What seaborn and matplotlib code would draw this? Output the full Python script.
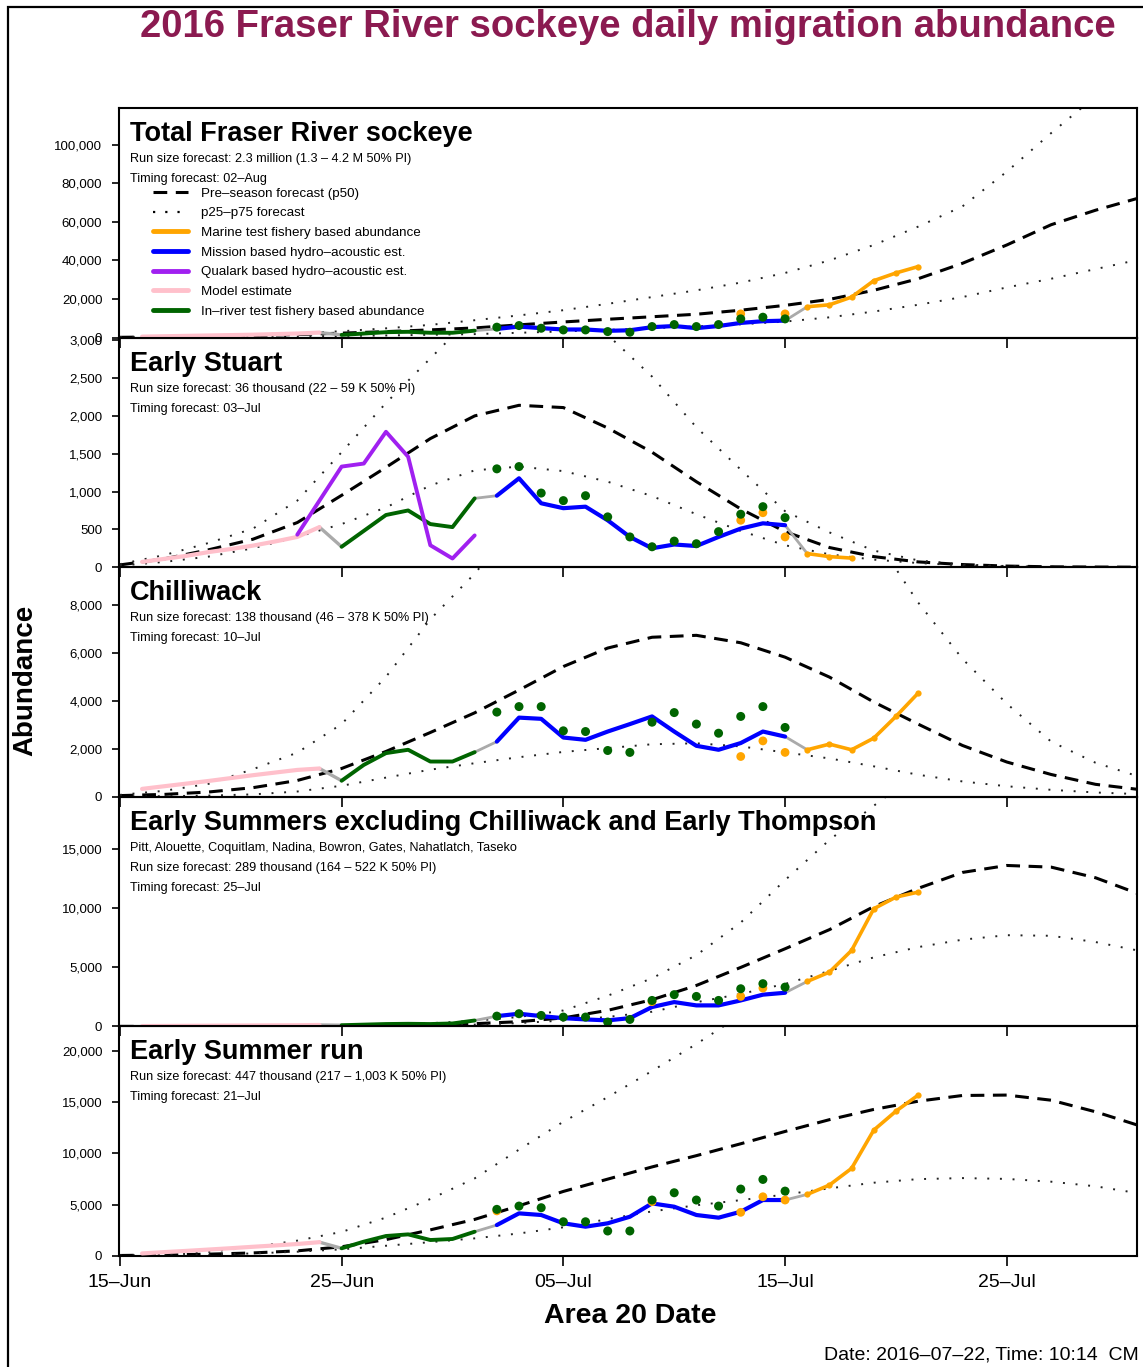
import numpy as np
import pandas as pd
import matplotlib
matplotlib.use('Agg')
import matplotlib.pyplot as plt
from matplotlib.lines import Line2D
from matplotlib.patches import Rectangle
import seaborn as sns

# Estilo
sns.set_style('white')
plt.rcParams['font.family'] = ['Liberation Sans', 'DejaVu Sans']
plt.rcParams['text.color'] = 'black'
plt.rcParams['axes.labelcolor'] = 'black'
plt.rcParams['xtick.color'] = 'black'
plt.rcParams['ytick.color'] = 'black'

START = pd.Timestamp('2016-06-15')

# dias desde 15-Jun
FC_DAYS = list(range(0, 47, 2))
MODEL_DAYS = list(range(1, 10))
INRIVER_DAYS = list(range(10, 17))
MISSION_DAYS = list(range(17, 31))
MARINE_DAYS = list(range(31, 37))
QUALARK_DAYS = list(range(8, 17))

XTICK_DAYS = [0, 10, 20, 30, 40]
XTICK_LABELS = ['15\u2013Jun', '25\u2013Jun', '05\u2013Jul', '15\u2013Jul', '25\u2013Jul']

# ---- Total Fraser River sockeye ----
TOT_P50 = [150, 350, 650, 1050, 1600, 2300, 3100, 4000, 5000, 6600, 8100, 9500,
           10800, 12100, 14200, 16700, 19800, 24500, 30500, 38500, 48000, 58500, 66000, 72500]
TOT_P75 = [300, 600, 1000, 1600, 2300, 3300, 4800, 6600, 9000, 11500, 14200, 17500,
           21000, 24500, 28500, 33500, 40000, 48000, 57500, 68000, 86000, 106000, 125000, 145000]
TOT_P25 = [100, 200, 300, 450, 600, 850, 1100, 1450, 1800, 2500, 3200, 4000,
           4900, 5800, 6900, 8300, 10500, 13500, 17000, 21000, 26000, 30500, 35500, 40500]
TOT_MODEL = [500, 700, 900, 1100, 1300, 1500, 1800, 2100, 2600]
TOT_INRIVER = [1400, 2100, 2800, 3000, 2500, 2500, 3600]
TOT_MISSION = [4500, 5700, 4900, 4200, 4200, 3500, 3800, 5400, 6000, 4900, 6000, 7600, 8500, 8800]
TOT_MARINE = [16000, 17000, 21000, 29500, 33500, 36800]
TOT_INRIVER_PTS = [5400, 6230, 4850, 3980, 3980, 3120, 2770, 5710, 6750, 5710, 6750, 9700, 10560, 9700]
TOT_MARINE_PT_DAYS = [28, 30]
TOT_MARINE_PTS = [12300, 12300]

# ---- Early Stuart ----
ES_P50 = [30, 110, 230, 370, 590, 950, 1320, 1700, 2000, 2140, 2110, 1840,
          1520, 1130, 770, 470, 260, 140, 70, 35, 15, 5, 2, 0]
ES_P75 = [40, 160, 320, 510, 880, 1520, 2170, 2760, 3350, 3800, 3600, 3070,
          2520, 1850, 1290, 740, 460, 220, 90, 35, 15, 5, 2, 0]
ES_P25 = [20, 70, 140, 250, 400, 570, 790, 1080, 1280, 1330, 1270, 1130,
          940, 700, 480, 290, 170, 100, 55, 25, 10, 5, 2, 0]
ES_MODEL = [70, 110, 150, 200, 240, 285, 340, 400, 530]
ES_INRIVER = [270, 480, 690, 750, 570, 530, 910]
ES_MISSION = [945, 1175, 845, 780, 800, 620, 400, 250, 300, 280, 400, 510, 580, 555]
ES_MARINE = [180, 140, 120]
ES_QUALARK = [430, 880, 1330, 1370, 1790, 1460, 290, 115, 420]
ES_INRIVER_PTS = [1300, 1330, 980, 880, 945, 665, 400, 270, 345, 310, 470, 700, 800, 655]
ES_MARINE_PT_DAYS = [28, 29, 30]
ES_MARINE_PTS = [620, 720, 400]

# ---- Chilliwack ----
CH_P50 = [50, 100, 200, 380, 680, 1180, 1890, 2680, 3500, 4450, 5430, 6200,
          6650, 6730, 6420, 5820, 4990, 3950, 3030, 2140, 1450, 930, 520, 300]
CH_P75 = [80, 250, 540, 1150, 1840, 3030, 5000, 7400, 9300, 11500, 13500, 14800,
          15500, 15500, 15000, 14000, 12800, 10900, 8100, 5750, 3880, 2300, 1420, 830]
CH_P25 = [10, 25, 50, 100, 220, 460, 800, 1130, 1400, 1650, 1870, 2030,
          2190, 2230, 2100, 1850, 1600, 1270, 920, 640, 440, 290, 180, 110]
CH_MODEL = [330, 440, 550, 660, 780, 900, 1010, 1120, 1180]
CH_INRIVER = [670, 1330, 1820, 1960, 1470, 1470, 1860]
CH_MISSION = [2300, 3300, 3250, 2470, 2375, 2720, 3030, 3350, 2720, 2125, 1960, 2240, 2720, 2510]
CH_MARINE = [1960, 2195, 1960, 2445, 3350, 4320]
CH_INRIVER_PTS = [3530, 3760, 3760, 2750, 2720, 1930, 1850, 3110, 3510, 3030, 2650, 3350, 3760, 2890]
CH_MARINE_PT_DAYS = [28, 29, 30]
CH_MARINE_PTS = [1680, 2330, 1850]

# ---- Early Summers excluding Chilliwack and Early Thompson ----
ESX_P50 = [0, 0, 5, 10, 20, 40, 70, 130, 230, 400, 720, 1360,
           2260, 3470, 5000, 6580, 8200, 10150, 11700, 13050, 13640, 13500, 12600, 11200]
ESX_P75 = [0, 5, 10, 20, 40, 80, 150, 270, 470, 800, 1350, 2600,
           4080, 6040, 8800, 12400, 15800, 18700, 21500, 23500, 25000, 25500, 25000, 24000]
ESX_P25 = [0, 0, 0, 5, 10, 20, 40, 80, 150, 280, 500, 800,
           1240, 2050, 2750, 3600, 4700, 5850, 6720, 7350, 7730, 7680, 7150, 6400]
ESX_MODEL = [30, 40, 50, 60, 70, 80, 90, 100, 120]
ESX_INRIVER = [100, 150, 200, 220, 200, 250, 500]
ESX_MISSION = [870, 1075, 870, 700, 590, 510, 700, 1640, 2060, 1780, 1780, 2200, 2690, 2850]
ESX_MARINE = [3810, 4600, 6440, 9970, 10960, 11380]
ESX_INRIVER_PTS = [870, 1075, 930, 790, 790, 370, 590, 2200, 2690, 2540, 2200, 3190, 3620, 3330]
ESX_MARINE_PT_DAYS = [24, 28, 29]
ESX_MARINE_PTS = [2100, 2540, 3250]

# ---- Early Summer run ----
ESR_P50 = [50, 100, 180, 300, 500, 900, 1600, 2550, 3570, 4900, 6300, 7500,
           8690, 9790, 10950, 12150, 13300, 14300, 15100, 15660, 15700, 15200, 14070, 12700]
ESR_P75 = [50, 150, 400, 880, 1500, 2350, 3750, 5560, 7570, 10380, 13100, 15500,
           18050, 20680, 23500, 26000, 28000, 29000, 29500, 29500, 29000, 28000, 26500, 25000]
ESR_P25 = [20, 60, 130, 250, 420, 650, 1000, 1350, 1720, 2200, 2800, 3600,
           4350, 4950, 5450, 6000, 6600, 7150, 7500, 7600, 7520, 7250, 6800, 6100]
ESR_MODEL = [250, 380, 500, 630, 760, 900, 1030, 1170, 1350]
ESR_INRIVER = [750, 1400, 1950, 2110, 1560, 1660, 2370]
ESR_MISSION = [3020, 4160, 4000, 3190, 2860, 3190, 3830, 5130, 4810, 4000, 3740, 4320, 5460, 5460]
ESR_MARINE = [6010, 6920, 8550, 12280, 14130, 15690]
ESR_INRIVER_PTS = [4550, 4870, 4710, 3340, 3340, 2440, 2440, 5460, 6170, 5460, 4870, 6530, 7470, 6330]
ESR_MARINE_PT_DAYS = [17, 24, 28, 29, 30]
ESR_MARINE_PTS = [4400, 5300, 4260, 5780, 5460]

PANELS = [
    dict(title='Total Fraser River sockeye',
         notes=['Run size forecast: 2.3 million (1.3 \u2013 4.2 M 50% PI)',
                'Timing forecast: 02\u2013Aug'],
         p50=TOT_P50, p75=TOT_P75, p25=TOT_P25, model=TOT_MODEL, inriver=TOT_INRIVER,
         mission=TOT_MISSION, marine=TOT_MARINE, qualark=None,
         inriver_pts=TOT_INRIVER_PTS, marine_pt_days=TOT_MARINE_PT_DAYS, marine_pts=TOT_MARINE_PTS,
         ymax=119000, yticks=[0, 20000, 40000, 60000, 80000, 100000]),
    dict(title='Early Stuart',
         notes=['Run size forecast: 36 thousand (22 \u2013 59 K 50% PI)',
                'Timing forecast: 03\u2013Jul'],
         p50=ES_P50, p75=ES_P75, p25=ES_P25, model=ES_MODEL, inriver=ES_INRIVER,
         mission=ES_MISSION, marine=ES_MARINE, qualark=ES_QUALARK,
         inriver_pts=ES_INRIVER_PTS, marine_pt_days=ES_MARINE_PT_DAYS, marine_pts=ES_MARINE_PTS,
         ymax=3035, yticks=[0, 500, 1000, 1500, 2000, 2500, 3000]),
    dict(title='Chilliwack',
         notes=['Run size forecast: 138 thousand (46 \u2013 378 K 50% PI)',
                'Timing forecast: 10\u2013Jul'],
         p50=CH_P50, p75=CH_P75, p25=CH_P25, model=CH_MODEL, inriver=CH_INRIVER,
         mission=CH_MISSION, marine=CH_MARINE, qualark=None,
         inriver_pts=CH_INRIVER_PTS, marine_pt_days=CH_MARINE_PT_DAYS, marine_pts=CH_MARINE_PTS,
         ymax=9570, yticks=[0, 2000, 4000, 6000, 8000]),
    dict(title='Early Summers excluding Chilliwack and Early Thompson',
         notes=['Pitt, Alouette, Coquitlam, Nadina, Bowron, Gates, Nahatlatch, Taseko',
                'Run size forecast: 289 thousand (164 \u2013 522 K 50% PI)',
                'Timing forecast: 25\u2013Jul'],
         p50=ESX_P50, p75=ESX_P75, p25=ESX_P25, model=ESX_MODEL, inriver=ESX_INRIVER,
         mission=ESX_MISSION, marine=ESX_MARINE, qualark=None,
         inriver_pts=ESX_INRIVER_PTS, marine_pt_days=ESX_MARINE_PT_DAYS, marine_pts=ESX_MARINE_PTS,
         ymax=19460, yticks=[0, 5000, 10000, 15000]),
    dict(title='Early Summer run',
         notes=['Run size forecast: 447 thousand (217 \u2013 1,003 K 50% PI)',
                'Timing forecast: 21\u2013Jul'],
         p50=ESR_P50, p75=ESR_P75, p25=ESR_P25, model=ESR_MODEL, inriver=ESR_INRIVER,
         mission=ESR_MISSION, marine=ESR_MARINE, qualark=None,
         inriver_pts=ESR_INRIVER_PTS, marine_pt_days=ESR_MARINE_PT_DAYS, marine_pts=ESR_MARINE_PTS,
         ymax=22400, yticks=[0, 5000, 10000, 15000, 20000]),
]

COL_MARINE = '#FFA500'
COL_MISSION = '#0000FF'
COL_QUALARK = '#A020F0'
COL_MODEL = '#FFC0CB'
COL_INRIVER = '#006400'
COL_GAP = '#AAAAAA'

DASHED = (0, (4.5, 2.8))
DOTTED = (0, (1, 5.5))

PANEL_H = 229.6  # px


def fechas(days):
    return START + pd.to_timedelta(days, unit='D')


def linea(ax, days, vals, **kw):
    sns.lineplot(x=fechas(days), y=vals, ax=ax, sort=False, estimator=None, **kw)


def dibujar_panel(ax, p):
    # pronosticos
    linea(ax, FC_DAYS, p['p50'], color='black', lw=2.2, linestyle=DASHED, zorder=2)
    linea(ax, FC_DAYS, p['p75'], color='#222222', lw=1.4, linestyle=DOTTED, zorder=2)
    linea(ax, FC_DAYS, p['p25'], color='#222222', lw=1.4, linestyle=DOTTED, zorder=2)

    # conectores grises entre fuentes
    linea(ax, [MODEL_DAYS[-1], INRIVER_DAYS[0]], [p['model'][-1], p['inriver'][0]],
          color=COL_GAP, lw=2.4, zorder=3)
    linea(ax, [INRIVER_DAYS[-1], MISSION_DAYS[0]], [p['inriver'][-1], p['mission'][0]],
          color=COL_GAP, lw=2.0, zorder=3)
    linea(ax, [MISSION_DAYS[-1], MARINE_DAYS[0]], [p['mission'][-1], p['marine'][0]],
          color=COL_GAP, lw=2.0, zorder=3)

    # estimaciones observadas
    linea(ax, MODEL_DAYS, p['model'], color=COL_MODEL, lw=3.0, zorder=3)
    linea(ax, INRIVER_DAYS, p['inriver'], color=COL_INRIVER, lw=2.8, zorder=3)
    if p['qualark'] is not None:
        linea(ax, QUALARK_DAYS, p['qualark'], color=COL_QUALARK, lw=2.8, zorder=3)
    linea(ax, MISSION_DAYS, p['mission'], color=COL_MISSION, lw=3.0, zorder=3)
    mdays = MARINE_DAYS[:len(p['marine'])]
    linea(ax, mdays, p['marine'], color=COL_MARINE, lw=2.6, zorder=3,
          marker='o', markersize=4.5, markeredgewidth=0)

    # puntos de pesquerias de prueba
    sns.scatterplot(x=fechas(p['marine_pt_days']), y=p['marine_pts'], ax=ax,
                    color=COL_MARINE, s=40, edgecolor='none', zorder=4)
    sns.scatterplot(x=fechas(MISSION_DAYS), y=p['inriver_pts'], ax=ax,
                    color=COL_INRIVER, s=42, edgecolor='none', zorder=5)

    # textos
    ax.text(0.0108, 1 - 33 / PANEL_H, p['title'], transform=ax.transAxes,
            fontsize=19.5, fontweight='bold', va='baseline', ha='left')
    for i, nota in enumerate(p['notes']):
        ax.text(0.0108, 1 - (54 + 20 * i) / PANEL_H, nota, transform=ax.transAxes,
                fontsize=9.1, va='baseline', ha='left')

    ax.set_ylim(0, p['ymax'])
    ax.set_yticks(p['yticks'])
    ax.set_yticklabels([f'{v:,}' for v in p['yticks']])
    ax.set_ylabel('')
    ax.set_xlabel('')


fig, axes = plt.subplots(5, 1, figsize=(11.43, 13.67), dpi=100, sharex=True)
fig.subplots_adjust(left=0.1041, right=0.9948, top=0.921, bottom=0.0812, hspace=0)

for ax, p in zip(axes, PANELS):
    dibujar_panel(ax, p)
    ax.patch.set_visible(False)
    for s in ax.spines.values():
        s.set_linewidth(1.5)
        s.set_color('black')
    ax.tick_params(axis='y', direction='out', length=5, width=1.2, labelsize=9.5,
                   pad=7, left=True)
    ax.tick_params(axis='x', direction='out', length=7, width=1.2, labelsize=14,
                   pad=6, bottom=True)

axes[-1].set_xticks(fechas(XTICK_DAYS))
axes[-1].set_xticklabels(XTICK_LABELS)
axes[-1].set_xlim(START - pd.Timedelta(hours=1), START + pd.Timedelta(hours=int(45.9 * 24)))

# leyenda en el primer panel
handles = [
    Line2D([], [], color='black', lw=2.2, linestyle=DASHED),
    Line2D([], [], color='black', lw=1.6, linestyle=(0, (1, 4.5))),
    Line2D([], [], color=COL_MARINE, lw=3.5),
    Line2D([], [], color=COL_MISSION, lw=3.5),
    Line2D([], [], color=COL_QUALARK, lw=3.5),
    Line2D([], [], color=COL_MODEL, lw=3.5),
    Line2D([], [], color=COL_INRIVER, lw=3.5),
]
labels = ['Pre\u2013season forecast (p50)', 'p25\u2013p75 forecast',
          'Marine test fishery based abundance', 'Mission based hydro\u2013acoustic est.',
          'Qualark based hydro\u2013acoustic est.', 'Model estimate',
          'In\u2013river test fishery based abundance']
axes[0].legend(handles, labels, loc='upper left', bbox_to_anchor=(0.0334, 1 - 79.5 / PANEL_H),
               frameon=False, fontsize=9.6, borderpad=0, borderaxespad=0,
               handlelength=2.6, handletextpad=1.0, labelspacing=0.55)

# titulos de figura
fig.text(0.5495, 0.9805, '2016 Fraser River sockeye daily migration abundance',
         ha='center', va='center', fontsize=27.5, fontweight='bold', color='#8B1A50')
fig.text(0.0223, 0.5026, 'Abundance', rotation=90, ha='center', va='center',
         fontsize=20, fontweight='bold')
fig.text(0.551, 0.0373, 'Area 20 Date', ha='center', va='center',
         fontsize=20.5, fontweight='bold')
fig.text(0.9965, 0.0088, 'Date: 2016\u201307\u201322, Time: 10:14  CM', ha='right',
         va='center', fontsize=14)

# marco exterior
fig.patches.append(Rectangle((8 / 1143, -0.01), 1.2, 1 - 7 / 1367 + 0.01, transform=fig.transFigure,
                             fill=False, lw=1.6, edgecolor='black', clip_on=False))

fig.savefig('out.png', dpi=100)
